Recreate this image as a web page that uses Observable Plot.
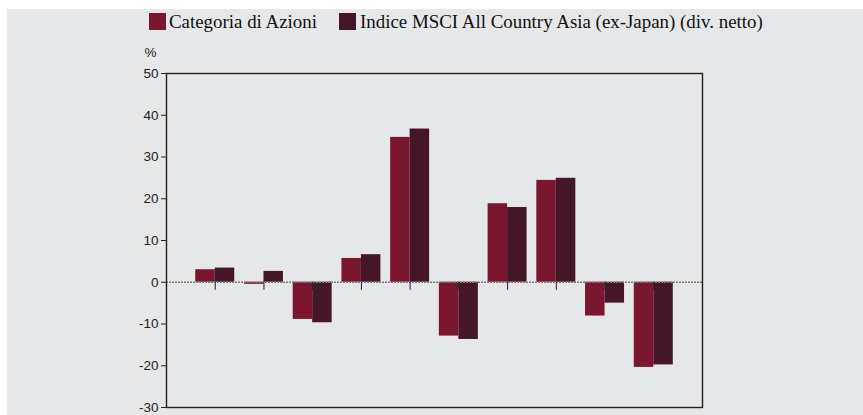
<!DOCTYPE html>
<html>
<head>
<meta charset="utf-8">
<script src="https://cdn.jsdelivr.net/npm/d3@7"></script>
<script src="https://cdn.jsdelivr.net/npm/@observablehq/plot@0.6"></script>
<style>
  html, body { margin: 0; padding: 0; background: #ffffff; }
  #page { position: relative; width: 863px; height: 415px; overflow: hidden; }
  #bg { position: absolute; left: 7px; top: 9px; right: 0; bottom: 0; background: #e6e7e9; }
  #legend { position: absolute; left: 0; top: 0; width: 863px; height: 40px;
            font-family: "Liberation Serif", "Times New Roman", serif; font-size: 18.9px; color: #111; }
  .sw { position: absolute; top: 13px; width: 17px; height: 17px; }
  .lt { position: absolute; top: 11px; line-height: 21px; white-space: nowrap; }
  #chart { position: absolute; left: 0; top: 40px; }
</style>
</head>
<body>
<div id="page">
  <div id="bg"></div>
  <div id="legend"></div>
  <div id="chart"></div>
</div>
<script>
const groups = [1, 2, 3, 4, 5, 6, 7, 8, 9, 10];
const fundValues = [3.0, -0.5, -8.9, 5.7, 34.7, -12.9, 18.8, 24.4, -8.1, -20.4];
const indexValues = [3.4, 2.6, -9.7, 6.6, 36.7, -13.7, 17.9, 24.9, -5.0, -19.8];
const seriesNames = ["Categoria di Azioni", "Indice MSCI All Country Asia (ex-Japan) (div. netto)"];
const seriesColors = ["#7b1631", "#441628"];
const yTicks = [-30, -20, -10, 0, 10, 20, 30, 40, 50];

const rows = [];
groups.forEach((g, i) => {
  rows.push({g, s: 0, series: seriesNames[0], v: fundValues[i]});
  rows.push({g, s: 1, series: seriesNames[1], v: indexValues[i]});
});
const barW = 0.4;

// legend
const legend = document.getElementById("legend");
const swX = [149, 339];
const txX = [169, 360];
seriesNames.forEach((name, i) => {
  const sw = document.createElement("div");
  sw.className = "sw"; sw.style.left = swX[i] + "px"; sw.style.background = seriesColors[i];
  legend.appendChild(sw);
  const t = document.createElement("div");
  t.className = "lt"; t.style.left = txX[i] + "px"; t.textContent = name;
  legend.appendChild(t);
});

const plot = Plot.plot({
  width: 863,
  height: 375,
  marginTop: 33,
  marginBottom: 8,
  marginLeft: 166,
  marginRight: 161,
  style: {background: "transparent", fontFamily: "'Liberation Sans', Arial, sans-serif", fontSize: "13.5px", color: "#222", overflow: "visible"},
  x: {domain: [0, 11], axis: null},
  y: {domain: [-30, 50], ticks: yTicks, tickSize: 5, tickPadding: 3, label: null, tickFormat: d => String(d)},
  color: {domain: seriesNames, range: seriesColors},
  marks: [
    Plot.rectY(rows, {
      x1: d => d.g - barW + barW * d.s,
      x2: d => d.g + barW * d.s,
      y1: 0,
      y2: "v",
      fill: "series"
    }),
    Plot.ruleY([0], {stroke: "#7a7a7a", strokeDasharray: "2,1", strokeWidth: 1.6}),
    Plot.ruleX(groups, {x: d => d, y1: 0, y2: 0, insetBottom: -8, stroke: "#222", strokeWidth: 1}),
    Plot.frame({stroke: "#222", strokeWidth: 1.4}),
    Plot.text(["%"], {frameAnchor: "top-left", dx: -16, dy: -21, lineAnchor: "middle", textAnchor: "middle", fill: "#222"})
  ]
});
document.getElementById("chart").appendChild(plot);
</script>
</body>
</html>
